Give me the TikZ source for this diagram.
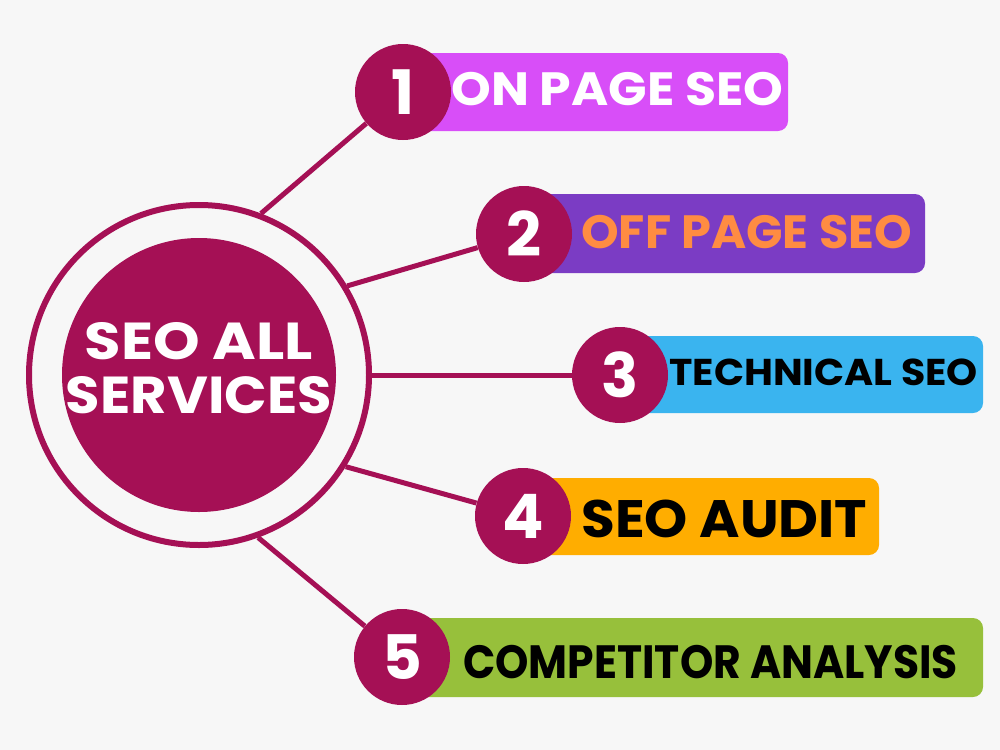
\documentclass[tikz,border=0pt]{standalone}
\usepackage{fontspec}
\usepackage{graphicx}
\setmainfont{Poppins}
\definecolor{bgc}{HTML}{F7F7F7}
\definecolor{mag}{HTML}{A51055}
\definecolor{barone}{HTML}{D84EF8}
\definecolor{bartwo}{HTML}{7B3CC4}
\definecolor{orangetxt}{HTML}{FF8C42}
\definecolor{barthree}{HTML}{3AB4EF}
\definecolor{barfour}{HTML}{FFAD00}
\definecolor{barfive}{HTML}{97C03B}
\newcommand{\fitw}[2]{\resizebox{#1}{\height}{#2}}
\begin{document}
\begin{tikzpicture}[x=0.75pt,y=-0.75pt,
  numc/.style={circle,fill=mag,minimum size=72pt,inner sep=0pt,text=white,font=\fontsize{46}{46}\selectfont\bfseries},
  barshape/.style={rounded corners=7.5pt},
  lbl/.style={anchor=base west,inner sep=0pt,font=\fontsize{35}{35}\selectfont\bfseries},
  conn/.style={draw=mag,line width=3.75pt}]
\fill[bgc] (0,0) rectangle (1000,750);
\useasboundingbox (0,0) rectangle (1000,750);
% bars
\fill[barone,barshape] (403,53) rectangle (788,131);
\fill[bartwo,barshape] (524,194) rectangle (925,273);
\fill[barthree,barshape] (620,336) rectangle (983,413);
\fill[barfour,barshape] (523,478) rectangle (879,555);
\fill[barfive,barshape] (402,618) rectangle (983,697);
% centre
\node[circle,draw=mag,line width=4.5pt,minimum size=255pt,inner sep=0pt] (outer) at (199,375) {};
\node[circle,fill=mag,minimum size=205.5pt,inner sep=0pt] (core) at (199,375) {};
\node[text=white,align=center,inner sep=0pt,font=\fontsize{39}{41}\selectfont\bfseries] (title) at (199,368) {\fitw{171pt}{SEO ALL}\\\fitw{199.5pt}{SERVICES}};
% number circles
\node[numc] (n1) at (403,92) {1};
\node[numc] (n2) at (524,234) {2};
\node[numc] (n3) at (620,375) {3};
\node[numc] (n4) at (523,516) {4};
\node[numc] (n5) at (402,657) {5};
% labels
\node[lbl,text=white] (l1) at (451,105) {\fitw{249pt}{ON PAGE SEO}};
\node[lbl,text=orangetxt] (l2) at (581,248) {\fitw{248pt}{OFF PAGE SEO}};
\node[lbl,text=black,font=\fontsize{28}{28}\selectfont\bfseries] (l3) at (669,385) {\fitw{231.5pt}{TECHNICAL SEO}};
\node[lbl,text=black,font=\fontsize{39.5}{39.5}\selectfont\bfseries] (l4) at (581,537) {\fitw{214.5pt}{SEO AUDIT}};
\node[lbl,text=black] (l5) at (463,678) {\fitw{371pt}{COMPETITOR ANALYSIS}};
% connectors
\draw[conn] (outer.69) -- (n1);
\draw[conn] (outer.31) -- (n2);
\draw[conn] (outer.0) -- (n3);
\draw[conn] (outer.-32) -- (n4);
\draw[conn] (outer.-70) -- (n5);
\end{tikzpicture}
\end{document}
